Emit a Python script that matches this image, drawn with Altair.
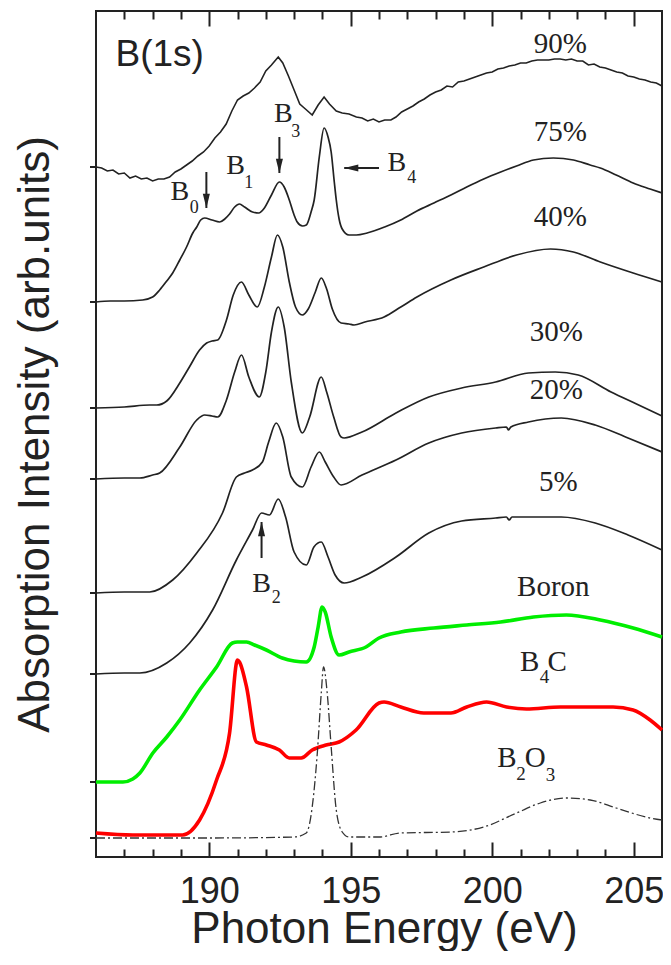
import altair as alt
import pandas as pd

X_DOMAIN = [186, 206]
Y_DOMAIN = [0, 8.46]

# ---- spectra (photon energy in eV, stacked intensity in arb. units) ----
E90 = [186.0, 186.2, 186.4, 186.6, 186.8, 187.0, 187.2, 187.4, 187.6, 187.8, 188.0, 188.2, 188.4, 188.6,
       188.8, 189.0, 189.2, 189.4, 189.6, 189.8, 190.0, 190.2, 190.4, 190.6, 190.8, 191.0, 191.2, 191.4,
       191.6, 191.8, 192.0, 192.2, 192.44, 192.6, 192.8, 193.0, 193.2, 193.4, 193.64, 193.85, 194.06,
       194.25, 194.49, 194.7, 194.94, 195.2, 195.4, 195.6, 195.8, 196.0, 196.2, 196.42, 196.6, 196.8,
       197.0, 197.2, 197.4, 197.6, 197.8, 198.0, 198.2, 198.4, 198.6, 198.8, 199.0, 199.2, 199.4, 199.6,
       199.8, 200.0, 200.2, 200.4, 200.6, 200.8, 201.0, 201.2, 201.4, 201.6, 201.8, 202.0, 202.2, 202.4,
       202.6, 202.8, 203.0, 203.2, 203.4, 203.6, 203.8, 204.0, 204.2, 204.4, 204.6, 204.8, 205.0, 205.2,
       205.4, 205.6, 205.8, 206.0]
I90 = [6.90, 6.89, 6.86, 6.87, 6.83, 6.84, 6.79, 6.81, 6.78, 6.79, 6.76, 6.78, 6.78, 6.80,
       6.85, 6.88, 6.92, 6.96, 7.01, 7.05, 7.11, 7.19, 7.25, 7.33, 7.46, 7.57, 7.61, 7.64,
       7.69, 7.75, 7.86, 7.92, 8.00, 7.94, 7.81, 7.67, 7.53, 7.48, 7.42, 7.52, 7.60,
       7.53, 7.46, 7.44, 7.43, 7.40, 7.39, 7.36, 7.38, 7.35, 7.37, 7.37, 7.40, 7.45,
       7.48, 7.51, 7.55, 7.58, 7.62, 7.65, 7.67, 7.71, 7.70, 7.75, 7.76, 7.78, 7.80, 7.82,
       7.84, 7.85, 7.88, 7.89, 7.91, 7.92, 7.94, 7.94, 7.96, 7.97, 7.97, 7.97, 7.98, 7.98,
       7.97, 7.98, 7.96, 7.96, 7.92, 7.93, 7.90, 7.89, 7.87, 7.85, 7.84, 7.81, 7.80, 7.78,
       7.77, 7.75, 7.74, 7.71]

E75 = [186.0, 186.5, 187.0, 187.65, 188.0, 188.25, 188.5, 188.71, 188.96, 189.2, 189.42, 189.56, 189.7,
       189.84, 190.1, 190.37, 190.55, 190.72, 190.9, 191.07, 191.25, 191.53, 191.75, 191.95, 192.2,
       192.48, 192.65, 192.83, 193.0, 193.11, 193.3, 193.43, 193.6, 193.71, 193.89, 194.06, 194.2,
       194.31, 194.42, 194.49, 194.59, 194.7, 194.94, 195.2, 195.58, 196.2, 196.77, 197.34, 197.94,
       198.54, 199.1, 199.7, 200.3, 200.86, 201.46, 202.16, 202.87, 203.46, 203.82, 204.38, 204.98,
       205.58, 206.0]
I75 = [5.55, 5.56, 5.56, 5.57, 5.60, 5.67, 5.76, 5.84, 5.97, 6.10, 6.24, 6.30, 6.37,
       6.39, 6.37, 6.35, 6.38, 6.43, 6.50, 6.53, 6.50, 6.45, 6.44, 6.49, 6.62,
       6.75, 6.70, 6.57, 6.42, 6.35, 6.31, 6.32, 6.45, 6.57, 7.00, 7.29, 7.20,
       7.05, 6.75, 6.57, 6.38, 6.28, 6.22, 6.22, 6.24, 6.30, 6.37, 6.46, 6.54,
       6.62, 6.70, 6.78, 6.85, 6.91, 6.97, 6.99, 6.97, 6.92, 6.89, 6.82, 6.74,
       6.68, 6.64]

E40 = [186.0, 187.0, 187.9, 188.15, 188.5, 188.96, 189.3, 189.66, 189.91, 190.1, 190.3, 190.61, 190.85,
       191.14, 191.4, 191.7, 191.95, 192.2, 192.41, 192.6, 192.83, 193.05, 193.29, 193.5, 193.75,
       193.96, 194.15, 194.35, 194.66, 194.94, 195.12, 195.5, 196.18, 196.77, 197.34, 198.54, 199.7,
       200.86, 202.06, 202.87, 203.82, 204.98, 206.0]
I40 = [4.49, 4.50, 4.52, 4.52, 4.56, 4.74, 4.90, 5.07, 5.14, 5.16, 5.17, 5.37, 5.62,
       5.75, 5.62, 5.50, 5.70, 6.00, 6.22, 6.10, 5.75, 5.50, 5.42, 5.48, 5.65,
       5.79, 5.68, 5.48, 5.34, 5.33, 5.32, 5.35, 5.40, 5.50, 5.60, 5.77, 5.90,
       6.02, 6.08, 6.05, 5.95, 5.84, 5.75]

E30 = [186.0, 187.0, 187.55, 188.0, 188.25, 188.96, 189.56, 189.84, 190.1, 190.3, 190.61, 190.9, 191.14,
       191.4, 191.77, 192.0, 192.2, 192.44, 192.65, 192.9, 193.29, 193.55, 193.96, 194.15, 194.4,
       194.66, 194.77, 195.4, 196.6, 197.76, 198.92, 200.12, 201.28, 202.23, 203.04, 204.2, 205.1, 206.0]
I30 = [3.78, 3.79, 3.79, 3.82, 3.84, 4.10, 4.37, 4.42, 4.41, 4.40, 4.57, 4.85, 5.02,
       4.80, 4.60, 4.85, 5.25, 5.50, 5.30, 4.75, 4.24, 4.40, 4.80, 4.65, 4.40,
       4.20, 4.19, 4.25, 4.44, 4.60, 4.69, 4.75, 4.84, 4.85, 4.82, 4.65, 4.53, 4.41]

E20 = [186.0, 187.0, 187.9, 188.71, 189.56, 190.47, 190.96, 191.25, 191.53, 191.88, 192.1, 192.37, 192.6,
       192.9, 193.29, 193.6, 193.89, 194.1, 194.4, 194.66, 195.4, 196.6, 197.76, 198.92, 200.12, 200.5,
       200.58, 200.66, 201.28, 202.44, 203.64, 204.8, 206.0]
I20 = [2.64, 2.65, 2.65, 2.77, 3.04, 3.44, 3.80, 3.84, 3.87, 3.95, 4.15, 4.34, 4.20,
       3.80, 3.70, 3.90, 4.05, 3.95, 3.80, 3.72, 3.82, 3.97, 4.14, 4.24, 4.29, 4.30,
       4.27, 4.30, 4.35, 4.39, 4.32, 4.19, 4.05]

E05 = [186.0, 187.0, 187.55, 188.5, 189.31, 190.12, 190.96, 191.53, 191.85, 192.13, 192.44, 192.7, 193.0,
       193.43, 193.7, 193.96, 194.2, 194.45, 194.77, 195.4, 196.6, 197.76, 198.92, 200.12, 200.5, 200.6,
       200.7, 201.28, 202.44, 203.64, 204.8, 206.0]
I05 = [1.83, 1.84, 1.84, 1.94, 2.14, 2.47, 2.97, 3.27, 3.44, 3.42, 3.58, 3.40, 3.05,
       2.92, 3.10, 3.15, 3.00, 2.82, 2.74, 2.80, 3.00, 3.24, 3.36, 3.39, 3.40, 3.37,
       3.40, 3.40, 3.40, 3.34, 3.22, 3.07]

E_BORON = [186.0, 186.95, 187.3, 187.55, 188.01, 188.5, 188.96, 189.66, 190.26, 190.82, 191.0, 191.32, 191.6,
           192.02, 192.58, 193.0, 193.43, 193.71, 193.85, 193.99, 194.1, 194.31, 194.59, 194.94, 195.54,
           196.0, 196.77, 197.94, 199.1, 200.3, 201.46, 202.62, 203.82, 204.98, 206.0]
I_BORON = [0.75, 0.75, 0.78, 0.84, 1.04, 1.20, 1.37, 1.67, 1.90, 2.14, 2.15, 2.15, 2.12,
           2.07, 1.99, 1.96, 1.95, 2.10, 2.30, 2.50, 2.45, 2.20, 2.02, 2.05, 2.10,
           2.19, 2.25, 2.29, 2.32, 2.35, 2.40, 2.42, 2.37, 2.29, 2.20]

E_B4C = [186.0, 187.3, 189.06, 189.66, 190.26, 190.72, 191.0, 191.07, 191.32, 191.67, 192.02, 192.48,
         192.83, 193.25, 193.64, 194.13, 194.59, 195.19, 196.0, 196.18, 196.77, 197.58, 198.54, 199.1,
         199.8, 200.51, 201.21, 202.41, 204.27, 204.98, 205.58, 206.0]
I_B4C = [0.24, 0.22, 0.22, 0.37, 0.77, 1.24, 1.97, 1.95, 1.70, 1.15, 1.12, 1.07,
         0.99, 0.99, 1.07, 1.12, 1.15, 1.27, 1.54, 1.55, 1.50, 1.44, 1.44, 1.50,
         1.55, 1.50, 1.48, 1.50, 1.50, 1.47, 1.37, 1.27]

E_B2O3 = [186.0, 190.0, 193.0, 193.43, 193.64, 193.82, 193.96, 194.04, 194.17, 194.31, 194.49, 194.7,
          194.94, 196.0, 196.77, 198.54, 199.7, 200.86, 201.7, 202.62, 203.46, 204.38, 205.58, 206.0]
I_B2O3 = [0.19, 0.19, 0.20, 0.24, 0.50, 1.04, 1.64, 1.90, 1.64, 1.10, 0.47, 0.25,
          0.20, 0.20, 0.24, 0.25, 0.30, 0.44, 0.54, 0.59, 0.57, 0.49, 0.39, 0.37]

# ---- annotations ----
SAMPLE_TEXT = ["90%", "75%", "40%", "30%", "20%", "5%", "Boron"]
SAMPLE_E = [202.41, 202.41, 202.41, 202.27, 202.27, 202.34, 202.16]
SAMPLE_I = [8.13, 7.25, 6.40, 5.25, 4.67, 3.75, 2.70]

FORMULA_TEXT = ["B", "C", "B", "O"]
FORMULA_E = [201.32, 202.30, 200.52, 201.52]
FORMULA_I = [1.95, 1.95, 0.99, 0.99]
FORMULA_SUB = ["4", "2", "3"]
FORMULA_SUB_E = [201.85, 201.02, 202.06]
FORMULA_SUB_I = [1.80, 0.83, 0.82]

PEAK_TEXT = ["B", "B", "B", "B", "B"]
PEAK_E = [188.96, 190.93, 191.85, 192.62, 196.63]
PEAK_I = [6.65, 6.91, 2.73, 7.43, 6.94]
PEAK_SUB = ["0", "1", "2", "3", "4"]
PEAK_SUB_E = [189.47, 191.40, 192.37, 193.06, 197.16]
PEAK_SUB_I = [6.49, 6.74, 2.59, 7.25, 6.79]

ARROW_TAIL_E = [189.90, 192.48, 196.00, 191.85]
ARROW_TIP_E = [189.90, 192.48, 194.77, 191.85]
ARROW_TAIL_I = [6.85, 7.20, 6.89, 2.99]
ARROW_TIP_I = [6.49, 6.84, 6.89, 3.35]
ARROW_DIR = ["down", "down", "left", "up"]

ALL_TICKS = list(range(187, 206))          # 1 eV tick marks on top and bottom frame
MAJOR_STEP = 5                              # labelled, longer ticks
MAJOR_LEN = 15   # px
MINOR_LEN = 8
BASELINE_TICKS = [6.90, 5.55, 4.49, 3.78, 2.64, 1.83, 0.75, 0.19]

W, H = 566, 846
INK = "#222222"

def curve(E, I, name):
    return pd.DataFrame({"E": E, "I": I, "series": name})

# inward ticks on top and bottom frame drawn as dashed grid lines (tick, gap, tick)
is_major = f"datum.value % {MAJOR_STEP} === 0"
grid_dash = {"condition": {"test": is_major, "value": [MAJOR_LEN, H - 2 * MAJOR_LEN]},
             "value": [MINOR_LEN, H - 2 * MINOR_LEN]}

xenc = alt.X("E:Q", scale=alt.Scale(domain=X_DOMAIN, nice=False, zero=False),
             axis=alt.Axis(title="Photon Energy (eV)", values=ALL_TICKS, grid=True, gridColor=INK,
                           gridWidth=2, gridOpacity=1, gridDash=grid_dash,
                           labelExpr=f"{is_major} ? format(datum.value, 'd') : ''",
                           labelOverlap=False, domain=False, ticks=False, tickSize=0,
                           labelFont="Liberation Sans", labelFontSize=36, labelColor=INK,
                           labelBaseline="alphabetic", labelPadding=45, labelFlush=False,
                           titleFont="Liberation Sans", titleFontSize=44, titleFontWeight="normal",
                           titleColor=INK, titleBaseline="alphabetic", titleY=85, titleX=288))
yenc = alt.Y("I:Q", scale=alt.Scale(domain=Y_DOMAIN, nice=False, zero=False),
             axis=alt.Axis(title="Absorption Intensity (arb.units)", labels=False, ticks=False,
                           tickSize=0, domain=False, grid=False, titleFont="Liberation Sans",
                           titleFontSize=44, titleFontWeight="normal", titleColor=INK,
                           titleAngle=270, titleBaseline="alphabetic", titleX=-48, titleY=423))

black = pd.concat([curve(E75, I75, "75%"), curve(E40, I40, "40%"), curve(E30, I30, "30%"),
                   curve(E20, I20, "20%"), curve(E05, I05, "5%")])

layers = []
layers.append(alt.Chart(curve(E90, I90, "90%")).mark_line(color=INK, strokeWidth=1.6)
              .encode(x=xenc, y=yenc))
layers.append(alt.Chart(black).mark_line(color=INK, strokeWidth=1.7, interpolate="monotone")
              .encode(x=xenc, y=yenc, detail="series:N"))
layers.append(alt.Chart(curve(E_BORON, I_BORON, "Boron"))
              .mark_line(color="#00ee00", strokeWidth=3.6, interpolate="monotone")
              .encode(x=xenc, y=yenc))
layers.append(alt.Chart(curve(E_B4C, I_B4C, "B4C"))
              .mark_line(color="#ff0000", strokeWidth=3.6, interpolate="monotone")
              .encode(x=xenc, y=yenc))
layers.append(alt.Chart(curve(E_B2O3, I_B2O3, "B2O3"))
              .mark_line(color="#333333", strokeWidth=1.3, strokeDash=[9, 3, 2, 3], interpolate="monotone")
              .encode(x=xenc, y=yenc))

layers.append(alt.Chart(pd.DataFrame({"I": BASELINE_TICKS})).mark_rule(color=INK, strokeWidth=2)
              .encode(y=yenc, x=alt.value(-6), x2=alt.value(0)))

# text annotations
serif = "Liberation Serif"
def texts(E, I, T, font, size):
    return (alt.Chart(pd.DataFrame({"E": E, "I": I, "t": T}))
            .mark_text(font=font, fontSize=size, color=INK, align="center", baseline="middle")
            .encode(x=xenc, y=yenc, text="t:N"))

layers.append(texts(SAMPLE_E, SAMPLE_I, SAMPLE_TEXT, serif, 29))
layers.append(texts(FORMULA_E, FORMULA_I, FORMULA_TEXT, serif, 29))
layers.append(texts(FORMULA_SUB_E, FORMULA_SUB_I, FORMULA_SUB, serif, 19))
layers.append(texts(PEAK_E, PEAK_I, PEAK_TEXT, serif, 28))
layers.append(texts(PEAK_SUB_E, PEAK_SUB_I, PEAK_SUB, serif, 18))
layers.append(texts([188.25], [8.02], ["B(1s)"], "Liberation Sans", 37))

# arrows
HEAD = {"down": "M0,0L-0.5,-2L0.5,-2Z", "up": "M0,0L-0.5,2L0.5,2Z", "left": "M0,0L2,-0.5L2,0.5Z"}
arrows = pd.DataFrame({"E": ARROW_TAIL_E, "E2": ARROW_TIP_E, "I": ARROW_TAIL_I, "I2": ARROW_TIP_I})
heads = pd.DataFrame({"E": ARROW_TIP_E, "I": ARROW_TIP_I, "shape": [HEAD[d] for d in ARROW_DIR]})
layers.append(alt.Chart(arrows).mark_rule(color=INK, strokeWidth=2)
              .encode(x=xenc, x2="E2:Q", y=yenc, y2="I2:Q"))
layers.append(alt.Chart(heads).mark_point(filled=True, color=INK, opacity=1, size=200, strokeWidth=0)
              .encode(x=xenc, y=yenc, shape=alt.Shape("shape:N", scale=None)))

chart = (alt.layer(*layers)
         .properties(width=W, height=H, autosize=alt.AutoSizeParams(type="none"),
                     background="white",
                     padding={"left": 88, "top": 3, "right": 1, "bottom": 94})
         .configure_view(stroke=INK, strokeWidth=2))

chart.save("out.html", embed_options={"renderer": "svg", "actions": False})
